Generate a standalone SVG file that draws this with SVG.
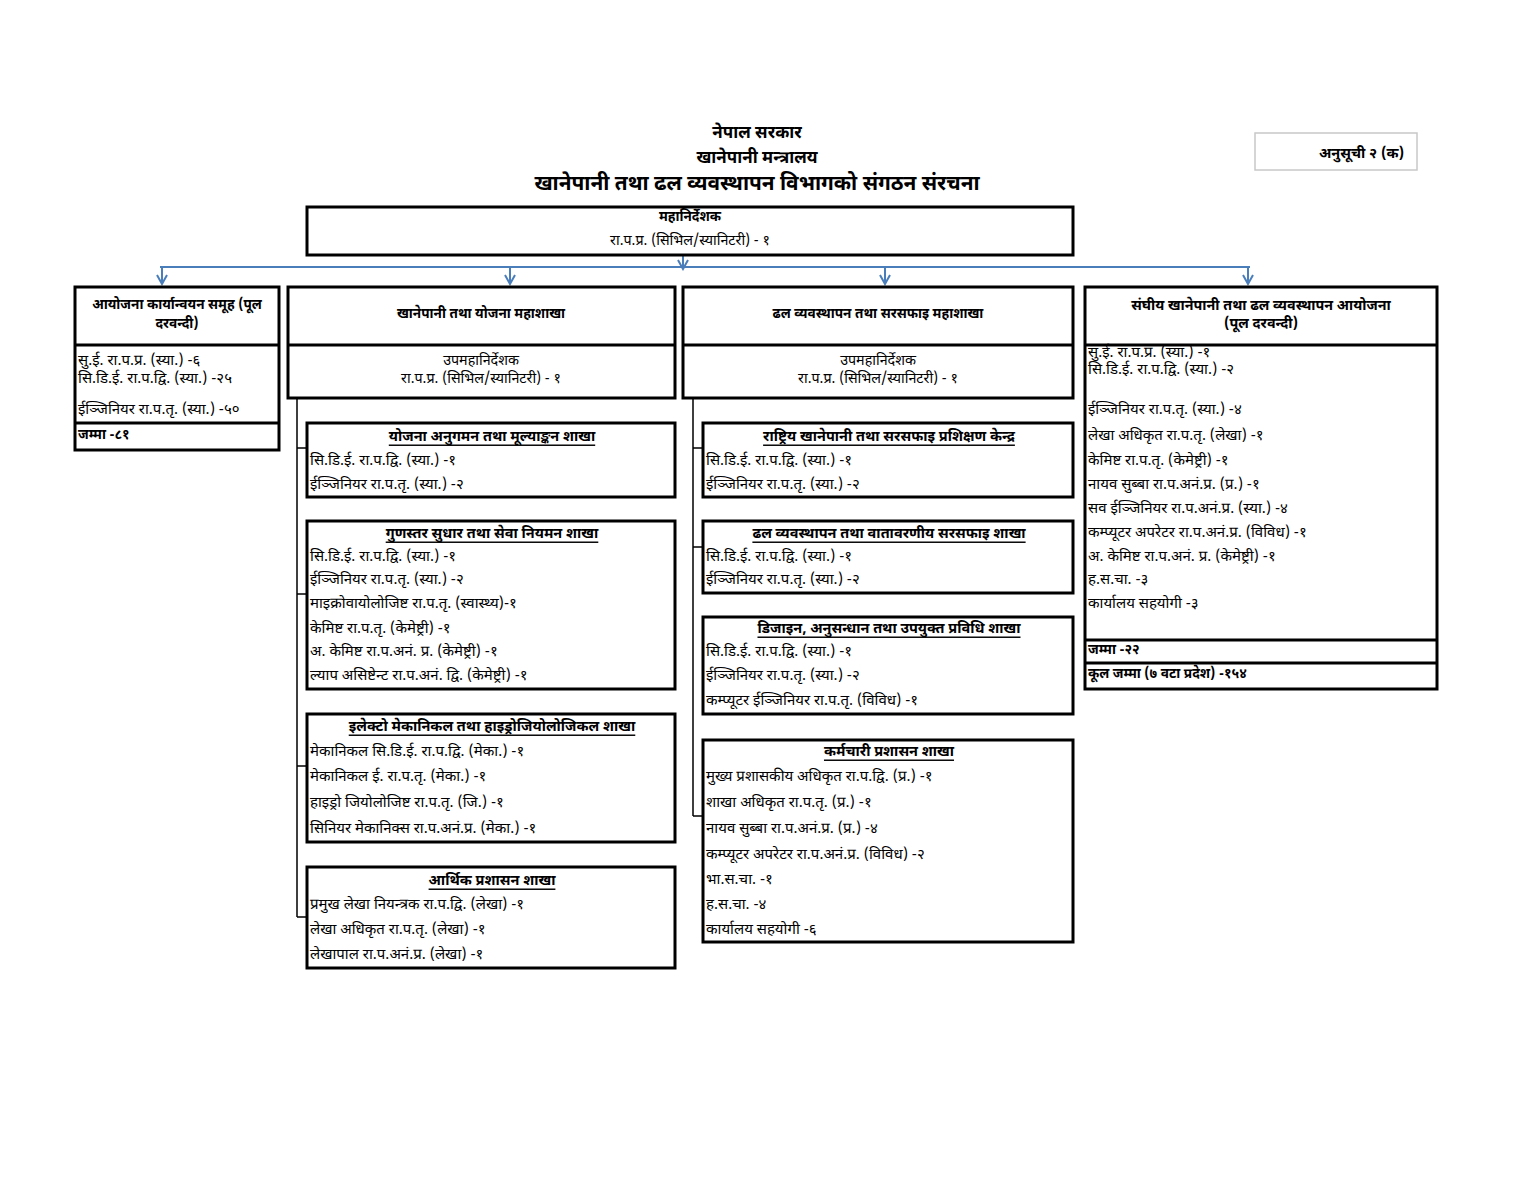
<svg xmlns="http://www.w3.org/2000/svg" width="1536" height="1187" viewBox="0 0 1536 1187">
<style>
text{font-family:"Noto Sans Devanagari","Noto Sans","Lohit Devanagari",sans-serif;fill:#000;font-size:15px;dominant-baseline:central}
.b{font-weight:bold}
.c{text-anchor:middle}
.m{font-size:14.3px}
.h{font-size:13.6px;font-weight:bold}
.st{font-size:14.5px;font-weight:bold;text-decoration:underline}
.t1{font-size:17px;font-weight:bold}
.t2{font-size:20.8px;font-weight:bold}
.box{fill:#fff;stroke:#000;stroke-width:3}
.sep{stroke:#000;stroke-width:3}
.con{stroke:#000;stroke-width:1.5;fill:none}
.blue{stroke:#4a7ebb;stroke-width:2;fill:none}
</style>
<defs>
<marker id="ah" markerWidth="12" markerHeight="12" refX="10" refY="6" orient="auto" markerUnits="userSpaceOnUse" viewBox="0 0 12 12">
<path d="M1,1 L10,6 L1,11" fill="none" stroke="#4a7ebb" stroke-width="2"/>
</marker>
</defs>
<rect width="1536" height="1187" fill="#fff"/>

<g id="title">
<text class="t1 c" x="757" y="134">नेपाल सरकार</text>
<text class="t1 c" x="757" y="159">खानेपानी मन्त्रालय</text>
<text class="t2 c" x="757" y="184">खानेपानी तथा ढल व्यवस्थापन विभागको संगठन संरचना</text>
</g>

<g id="annex">
<rect x="1255" y="133" width="162" height="37" fill="#fff" stroke="#c8c8c8" stroke-width="1.5"/>
<text class="b" x="1319" y="154" style="font-size:14.5px">अनुसूची २ (क)</text>
</g>

<g id="connectors">
<line class="blue" x1="683" y1="255" x2="683" y2="269" marker-end="url(#ah)"/>
<line class="blue" x1="160" y1="267" x2="1250" y2="267"/>
<line class="blue" x1="162" y1="267" x2="162" y2="284" marker-end="url(#ah)"/>
<line class="blue" x1="510" y1="267" x2="510" y2="284" marker-end="url(#ah)"/>
<line class="blue" x1="885" y1="267" x2="885" y2="284" marker-end="url(#ah)"/>
<line class="blue" x1="1248" y1="267" x2="1248" y2="284" marker-end="url(#ah)"/>
<path class="con" d="M297,398 V917 M297,448 H307 M297,594 H307 M297,766 H307 M297,917 H307"/>
<path class="con" d="M693,398 V816 M693,448 H703 M693,547 H703 M693,816 H703"/>
</g>

<g id="dg">
<rect class="box" x="307" y="207" width="766" height="48"/>
<text class="h c" x="690" y="218">महानिर्देशक</text>
<text class="m c" x="690" y="241">रा.प.प्र. (सिभिल/स्यानिटरी) - १</text>
</g>

<g id="col1">
<rect class="box" x="75" y="287" width="204" height="163"/>
<line class="sep" x1="75" y1="345" x2="279" y2="345"/>
<line class="sep" x1="75" y1="423" x2="279" y2="423"/>
<text class="h c" x="177" y="306">आयोजना कार्यान्वयन समूह (पूल</text>
<text class="h c" x="177" y="325">दरवन्दी)</text>
<text x="78" y="361">सु.ई. रा.प.प्र. (स्या.) -६</text>
<text x="78" y="379">सि.डि.ई. रा.प.द्वि. (स्या.) -२५</text>
<text x="78" y="410">ईञ्जिनियर रा.प.तृ. (स्या.) -५०</text>
<text class="h" x="78" y="436">जम्मा -८१</text>
</g>

<g id="col2">
<rect class="box" x="288" y="287" width="387" height="111"/>
<line class="sep" x1="288" y1="345" x2="675" y2="345"/>
<text class="h c" x="481" y="315">खानेपानी तथा योजना महाशाखा</text>
<text class="m c" x="481" y="361">उपमहानिर्देशक</text>
<text class="m c" x="481" y="379">रा.प.प्र. (सिभिल/स्यानिटरी) - १</text>
</g>

<g id="col3">
<rect class="box" x="683" y="287" width="390" height="111"/>
<line class="sep" x1="683" y1="345" x2="1073" y2="345"/>
<text class="h c" x="878" y="315">ढल व्यवस्थापन तथा सरसफाइ महाशाखा</text>
<text class="m c" x="878" y="361">उपमहानिर्देशक</text>
<text class="m c" x="878" y="379">रा.प.प्र. (सिभिल/स्यानिटरी) - १</text>
</g>

<g id="col4">
<rect class="box" x="1085" y="287" width="352" height="402"/>
<line class="sep" x1="1085" y1="345" x2="1437" y2="345"/>
<line class="sep" x1="1085" y1="640" x2="1437" y2="640"/>
<line class="sep" x1="1085" y1="663" x2="1437" y2="663"/>
<text class="h c" x="1261" y="306" style="font-size:14.3px">संघीय खानेपानी तथा ढल व्यवस्थापन आयोजना</text>
<text class="h c" x="1261" y="324" style="font-size:14.3px">(पूल दरवन्दी)</text>
<text x="1088" y="353">सु.ई. रा.प.प्र. (स्या.) -१</text>
<text x="1088" y="370">सि.डि.ई. रा.प.द्वि. (स्या.) -२</text>
<text x="1088" y="410">ईञ्जिनियर रा.प.तृ. (स्या.) -४</text>
<text x="1088" y="436">लेखा अधिकृत रा.प.तृ. (लेखा) -१</text>
<text x="1088" y="461">केमिष्ट रा.प.तृ. (केमेष्ट्री) -१</text>
<text x="1088" y="485">नायव सुब्बा रा.प.अनं.प्र. (प्र.) -१</text>
<text x="1088" y="509">सव ईञ्जिनियर रा.प.अनं.प्र. (स्या.) -४</text>
<text x="1088" y="533">कम्प्यूटर अपरेटर रा.प.अनं.प्र. (विविध) -१</text>
<text x="1088" y="557">अ. केमिष्ट रा.प.अनं. प्र. (केमेष्ट्री) -१</text>
<text x="1088" y="580">ह.स.चा. -३</text>
<text x="1088" y="604">कार्यालय सहयोगी -३</text>
<text class="h" x="1088" y="651">जम्मा -२२</text>
<text class="h" x="1088" y="675">कूल जम्मा (७ वटा प्रदेश) -१५४</text>
</g>

<g id="sec-a">
<rect class="box" x="307" y="423" width="368" height="74"/>
<text class="st c" x="492" y="437">योजना अनुगमन तथा मूल्याङ्कन शाखा</text>
<text x="310" y="461">सि.डि.ई. रा.प.द्वि. (स्या.) -१</text>
<text x="310" y="485">ईञ्जिनियर रा.प.तृ. (स्या.) -२</text>
</g>

<g id="sec-b">
<rect class="box" x="307" y="521" width="368" height="168"/>
<text class="st c" x="492" y="534">गुणस्तर सुधार तथा सेवा नियमन शाखा</text>
<text x="310" y="557">सि.डि.ई. रा.प.द्वि. (स्या.) -१</text>
<text x="310" y="580">ईञ्जिनियर रा.प.तृ. (स्या.) -२</text>
<text x="310" y="604">माइक्रोवायोलोजिष्ट रा.प.तृ. (स्वास्थ्य)-१</text>
<text x="310" y="629">केमिष्ट रा.प.तृ. (केमेष्ट्री) -१</text>
<text x="310" y="652">अ. केमिष्ट रा.प.अनं. प्र. (केमेष्ट्री) -१</text>
<text x="310" y="676">ल्याप असिष्टेन्ट रा.प.अनं. द्वि. (केमेष्ट्री) -१</text>
</g>

<g id="sec-c">
<rect class="box" x="307" y="714" width="368" height="128"/>
<text class="st c" x="492" y="727">इलेक्टो मेकानिकल तथा हाइड्रोजियोलोजिकल शाखा</text>
<text x="310" y="752">मेकानिकल सि.डि.ई. रा.प.द्वि. (मेका.) -१</text>
<text x="310" y="777">मेकानिकल ई. रा.प.तृ. (मेका.) -१</text>
<text x="310" y="803">हाइड्रो जियोलोजिष्ट रा.प.तृ. (जि.) -१</text>
<text x="310" y="829">सिनियर मेकानिक्स रा.प.अनं.प्र. (मेका.) -१</text>
</g>

<g id="sec-d">
<rect class="box" x="307" y="867" width="368" height="101"/>
<text class="st c" x="492" y="881">आर्थिक प्रशासन शाखा</text>
<text x="310" y="905">प्रमुख लेखा नियन्त्रक रा.प.द्वि. (लेखा) -१</text>
<text x="310" y="930">लेखा अधिकृत रा.प.तृ. (लेखा) -१</text>
<text x="310" y="955">लेखापाल रा.प.अनं.प्र. (लेखा) -१</text>
</g>

<g id="sec-e">
<rect class="box" x="703" y="423" width="370" height="74"/>
<text class="st c" x="889" y="437">राष्ट्रिय खानेपानी तथा सरसफाइ प्रशिक्षण केन्द्र</text>
<text x="706" y="461">सि.डि.ई. रा.प.द्वि. (स्या.) -१</text>
<text x="706" y="485">ईञ्जिनियर रा.प.तृ. (स्या.) -२</text>
</g>

<g id="sec-f">
<rect class="box" x="703" y="521" width="370" height="72"/>
<text class="st c" x="889" y="534">ढल व्यवस्थापन तथा वातावरणीय सरसफाइ शाखा</text>
<text x="706" y="557">सि.डि.ई. रा.प.द्वि. (स्या.) -१</text>
<text x="706" y="580">ईञ्जिनियर रा.प.तृ. (स्या.) -२</text>
</g>

<g id="sec-g">
<rect class="box" x="703" y="617" width="370" height="97"/>
<text class="st c" x="889" y="629">डिजाइन, अनुसन्धान तथा उपयुक्त प्रविधि शाखा</text>
<text x="706" y="652">सि.डि.ई. रा.प.द्वि. (स्या.) -१</text>
<text x="706" y="676">ईञ्जिनियर रा.प.तृ. (स्या.) -२</text>
<text x="706" y="701">कम्प्यूटर ईञ्जिनियर रा.प.तृ. (विविध) -१</text>
</g>

<g id="sec-h">
<rect class="box" x="703" y="740" width="370" height="202"/>
<text class="st c" x="889" y="752">कर्मचारी प्रशासन शाखा</text>
<text x="706" y="777">मुख्य प्रशासकीय अधिकृत रा.प.द्वि. (प्र.) -१</text>
<text x="706" y="803">शाखा अधिकृत रा.प.तृ. (प्र.) -१</text>
<text x="706" y="829">नायव सुब्बा रा.प.अनं.प्र. (प्र.) -४</text>
<text x="706" y="855">कम्प्यूटर अपरेटर रा.प.अनं.प्र. (विविध) -२</text>
<text x="706" y="880">भा.स.चा. -१</text>
<text x="706" y="905">ह.स.चा. -४</text>
<text x="706" y="930">कार्यालय सहयोगी -६</text>
</g>
</svg>
